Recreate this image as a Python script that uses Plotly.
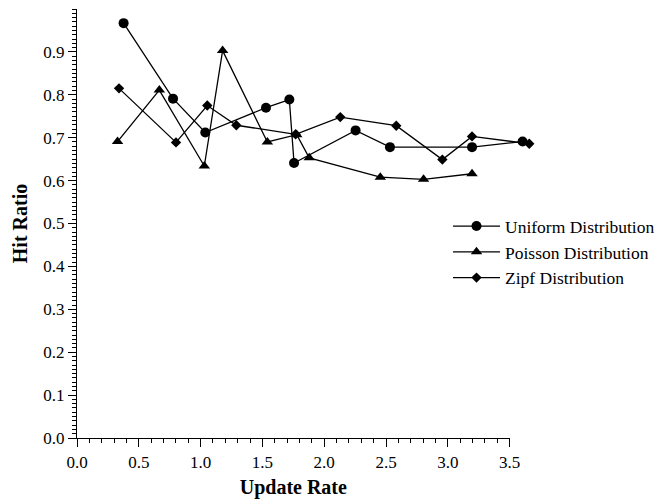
import plotly.graph_objects as go

uniform_x = [0.377, 0.777, 1.038, 1.529, 1.718, 1.756, 2.254, 2.532, 3.196, 3.605]
uniform_y = [0.967, 0.791, 0.712, 0.770, 0.789, 0.641, 0.717, 0.678, 0.678, 0.691]

poisson_x = [0.328, 0.666, 1.030, 1.178, 1.540, 1.778, 1.879, 2.454, 2.804, 3.196]
poisson_y = [0.691, 0.811, 0.634, 0.903, 0.690, 0.707, 0.653, 0.608, 0.603, 0.616]

zipf_x = [0.340, 0.801, 1.054, 1.289, 1.769, 2.130, 2.583, 2.956, 3.196, 3.659]
zipf_y = [0.815, 0.689, 0.775, 0.729, 0.708, 0.748, 0.728, 0.649, 0.703, 0.686]

series_names = ["Uniform Distribution", "Poisson Distribution", "Zipf Distribution"]

x_ticks = [0.0, 0.5, 1.0, 1.5, 2.0, 2.5, 3.0, 3.5]
x_tick_labels = ["0.0", "0.5", "1.0", "1.5", "2.0", "2.5", "3.0", "3.5"]
y_ticks = [0.0, 0.1, 0.2, 0.3, 0.4, 0.5, 0.6, 0.7, 0.8, 0.9]
y_tick_labels = ["0.0", "0.1", "0.2", "0.3", "0.4", "0.5", "0.6", "0.7", "0.8", "0.9"]

# layout geometry
W, H = 672, 504
ML, MR, MT, MB = 77, 22, 9, 60
AXIS_PX = 432.6          # pixel length of the visible 0..3.5 axis
X_MAX = 3.5
plot_w = W - ML - MR
px_per_unit = AXIS_PX / X_MAX
data_x_max = plot_w / px_per_unit
vis_frac = AXIS_PX / plot_w

fig = go.Figure()
# empty trace so the visible 0..3.5 axis gets drawn
fig.add_trace(go.Scatter(x=[None], y=[None], xaxis="x", yaxis="y",
                         showlegend=False, hoverinfo="skip"))
specs = [
    (uniform_x, uniform_y, "circle", 10),
    (poisson_x, poisson_y, "triangle-up", 10),
    (zipf_x, zipf_y, "diamond", 8),
]
for (xs, ys, sym, sz), name in zip(specs, series_names):
    fig.add_trace(go.Scatter(
        x=xs, y=ys, mode="lines+markers", name=name,
        xaxis="x2", yaxis="y",
        line=dict(color="black", width=1.3),
        marker=dict(symbol=sym, size=sz, color="black"),
        cliponaxis=False,
    ))

font_family = "Liberation Serif"
fig.update_layout(
    width=W, height=H,
    margin=dict(l=ML, r=MR, t=MT, b=MB),
    paper_bgcolor="white", plot_bgcolor="white",
    font=dict(family=font_family, size=17, color="black"),
    showlegend=True,
    legend=dict(
        x=(448 - ML) / plot_w, y=(444 - 211) / 435, xanchor="left", yanchor="top",
        font=dict(family=font_family, size=17.5, color="black"),
        bgcolor="rgba(0,0,0,0)", itemwidth=47, tracegroupgap=0,
    ),
    xaxis=dict(
        domain=[0, vis_frac], anchor="y",
        range=[0, X_MAX], tickvals=x_ticks, ticktext=x_tick_labels,
        showgrid=False, zeroline=False, showline=True, linecolor="black", linewidth=1.3,
        ticks="outside", ticklen=8, tickwidth=1.3, tickcolor="black",
        minor=dict(dtick=0.1, ticks="outside", ticklen=4, tickwidth=1, tickcolor="black", showgrid=False),
        title=dict(text="<b>Update Rate</b>", font=dict(family=font_family, size=20), standoff=9),
        tickfont=dict(family=font_family, size=17),
    ),
    xaxis2=dict(
        domain=[0, 1], anchor="y", range=[0, data_x_max],
        visible=False, showgrid=False, zeroline=False,
    ),
    yaxis=dict(
        domain=[0, 1], anchor="x",
        range=[0, 1.0], tickvals=y_ticks, ticktext=y_tick_labels,
        showgrid=False, zeroline=False, showline=True, linecolor="black", linewidth=1.3,
        ticks="outside", ticklen=8, tickwidth=1.3, tickcolor="black",
        minor=dict(dtick=0.01, ticks="outside", ticklen=4, tickwidth=1, tickcolor="black", showgrid=False),
        title=dict(text="<b>Hit Ratio</b>", font=dict(family=font_family, size=20), standoff=10),
        tickfont=dict(family=font_family, size=17),
    ),
)

fig.write_html("out.html")
